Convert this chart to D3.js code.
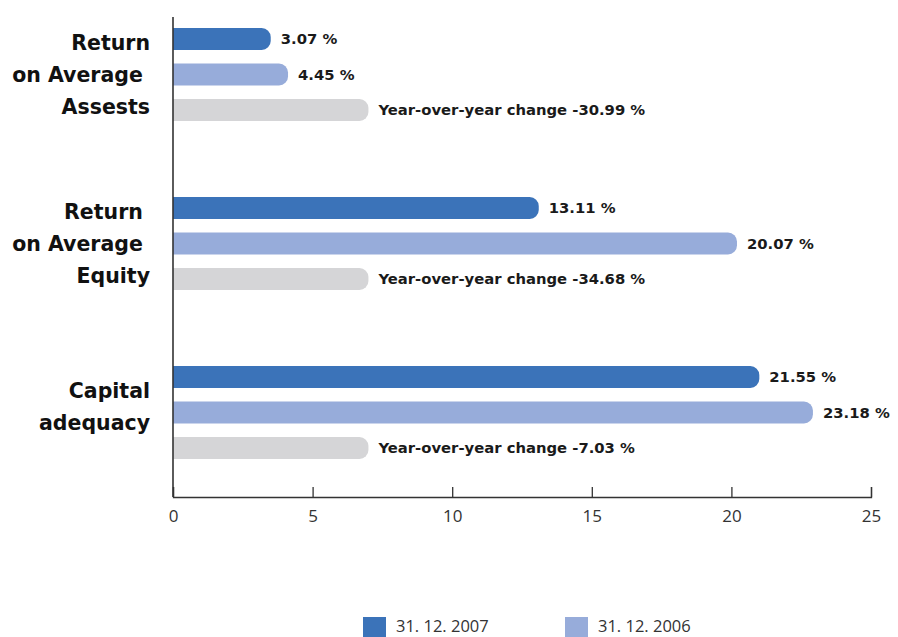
<!DOCTYPE html>
<html>
<head>
<meta charset="utf-8">
<script src="https://cdn.jsdelivr.net/npm/d3@7"></script>
<style>
  html, body { margin: 0; padding: 0; background: #fff; }
  svg { display: block; }
  text { white-space: pre; }
</style>
</head>
<body>
<svg id="chart" width="898" height="637"></svg>
<script>
// ---- data ----
const categoryLines = [
  ["Return", "on Average ", "Assests"],
  ["Return ", "on Average ", "Equity"],
  ["Capital", "adequacy"]
];
const seriesNames = ["31. 12. 2007", "31. 12. 2006", "change"];
// bar lengths as drawn in the reference
const bar2007 = [3.5, 13.1, 21.0];
const bar2006 = [4.12, 20.2, 22.92];
const barChange = [7.0, 7.0, 7.0];
// values printed next to the bars
const val2007 = [3.07, 13.11, 21.55];
const val2006 = [4.45, 20.07, 23.18];
const yoyChange = [-30.99, -34.68, -7.03];
const xTicks = [0, 5, 10, 15, 20, 25];

const colors = { "31. 12. 2007": "#3b73b9", "31. 12. 2006": "#97acda", "change": "#d5d5d7" };

const svg = d3.select("#chart");

const x = d3.scaleLinear().domain([0, 25]).range([173, 871]);
const groups = d3.range(categoryLines.length);
const yGroup = d3.scaleBand().domain(groups).range([-10, 497]).paddingInner(0).paddingOuter(0);
const ySub = d3.scaleBand().domain(seriesNames).range([0, 93]).paddingInner(0.38).paddingOuter(0);

const rows = groups.map(i => ({
  i,
  bars: [
    { s: seriesNames[0], v: bar2007[i], label: val2007[i].toFixed(2) + " %" },
    { s: seriesNames[1], v: bar2006[i], label: val2006[i].toFixed(2) + " %" },
    { s: seriesNames[2], v: barChange[i], label: "Year-over-year change " + yoyChange[i].toFixed(2) + " %" }
  ]
}));

function barPath(x0, x1, y0, h, r) {
  const w = x1 - x0;
  r = Math.min(r, h / 2, w);
  return `M${x0},${y0}H${x1 - r}A${r},${r} 0 0 1 ${x1},${y0 + r}V${y0 + h - r}A${r},${r} 0 0 1 ${x1 - r},${y0 + h}H${x0}Z`;
}

const g = svg.selectAll("g.grp").data(rows).join("g")
  .attr("class", "grp")
  .attr("transform", d => `translate(0,${yGroup(d.i) + yGroup.bandwidth() / 2 - (ySub(seriesNames[1]) + ySub.bandwidth() / 2)})`);

g.selectAll("path.bar").data(d => d.bars).join("path")
  .attr("class", "bar")
  .attr("d", b => barPath(x(0), x(b.v), ySub(b.s), ySub.bandwidth(), 9))
  .attr("fill", b => colors[b.s]);

g.selectAll("text.val").data(d => d.bars).join("text")
  .attr("class", "val")
  .attr("x", b => x(b.v) + 10)
  .attr("y", b => ySub(b.s) + ySub.bandwidth() / 2)
  .attr("dy", "0.36em")
  .attr("font-family", "DejaVu Sans")
  .attr("font-weight", "bold")
  .attr("font-size", 14.8)
  .attr("fill", "#1a1a1a")
  .text(b => b.label);

// category labels
const lineH = 32;
svg.selectAll("text.cat").data(rows).join("text")
  .attr("class", "cat")
  .attr("text-anchor", "end")
  .attr("font-family", "DejaVu Sans")
  .attr("font-weight", "bold")
  .attr("font-size", 20.5)
  .attr("fill", "#111")
  .each(function (d) {
    const lines = categoryLines[d.i];
    const cy = yGroup(d.i) + yGroup.bandwidth() / 2 - (lines.length < 3 ? 6 : 0);
    const top = cy - (lines.length - 1) * lineH / 2;
    d3.select(this).selectAll("tspan").data(lines).join("tspan")
      .attr("x", 150)
      .attr("y", (t, k) => top + k * lineH)
      .attr("dy", "0.36em")
      .text(t => t);
  });

// axes
const xAxis = d3.axisBottom(x).tickValues(xTicks).tickSize(-10).tickPadding(13).tickFormat(d3.format("d"));
const ax = svg.append("g").attr("transform", "translate(0,497)").call(xAxis);
ax.select(".domain").attr("stroke", "#333").attr("stroke-width", 1.3);
ax.selectAll(".tick line").attr("stroke", "#333").attr("stroke-width", 1.3);
ax.selectAll(".tick text").attr("font-family", "Open Sans").attr("font-size", 17).attr("fill", "#333");

svg.append("line")
  .attr("x1", x(0)).attr("x2", x(0))
  .attr("y1", 17).attr("y2", 497)
  .attr("stroke", "#333").attr("stroke-width", 1.6);

// legend
const legendItems = seriesNames.slice(0, 2);
const lx = d3.scalePoint().domain(legendItems).range([363, 565]);
const lg = svg.selectAll("g.leg").data(legendItems).join("g")
  .attr("class", "leg")
  .attr("transform", d => `translate(${lx(d)},617)`);
lg.append("rect").attr("width", 23).attr("height", 20).attr("fill", d => colors[d]);
lg.append("text")
  .attr("x", 33).attr("y", 14.5)
  .attr("font-family", "Open Sans")
  .attr("font-size", 16.5)
  .attr("fill", "#333")
  .text(d => d);
</script>
</body>
</html>
